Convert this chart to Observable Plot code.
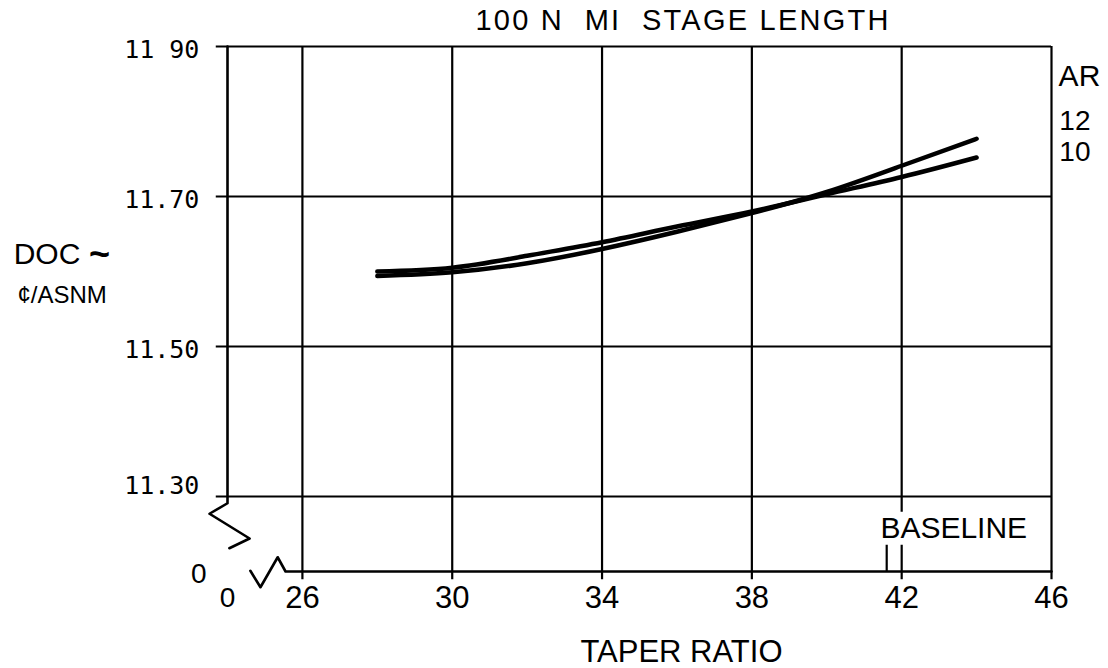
<!DOCTYPE html>
<html>
<head>
<meta charset="utf-8">
<script src="https://cdn.jsdelivr.net/npm/d3@7"></script>
<script src="https://cdn.jsdelivr.net/npm/@observablehq/plot@0.6"></script>
<style>
  html, body { margin: 0; padding: 0; background: #fff; }
  svg text { white-space: pre; }
</style>
</head>
<body>
<div id="chart"></div>
<script>
// ---- data ----
const taperRatio = [28, 30, 32, 34, 36, 38, 40, 42, 44];
const docAR10 = [11.600, 11.605, 11.621, 11.639, 11.660, 11.680, 11.703, 11.726, 11.752];
const docAR12 = [11.594, 11.599, 11.611, 11.630, 11.653, 11.678, 11.706, 11.741, 11.777];
const seriesNames = ["12", "10"];
const xTicks = [26, 30, 34, 38, 42, 46];
const xTickLabels = ["26", "30", "34", "38", "42", "46"];
const yTicks = [11.90, 11.70, 11.50, 11.30];
const yTickLabels = ["11 90", "11.70", "11.50", "11.30"];
const baselineTaper = 41.6;

const titleText = "100 N  MI  STAGE LENGTH";
const xLabel = "TAPER RATIO";
const yLabel1 = "DOC";
const yLabelTilde = "~";
const yLabel2 = "\u00A2/ASNM";

// ---- build rows ----
const rows = [];
taperRatio.forEach((t, i) => {
  rows.push({ar: "10", t, v: docAR10[i]});
  rows.push({ar: "12", t, v: docAR12[i]});
});

const X0 = 24, X1 = 46, Y0 = 11.20, Y1 = 11.90;
const sans = "'Liberation Sans', Arial, Helvetica, sans-serif";
const mono = "'DejaVu Sans Mono', monospace";

const chart = Plot.plot({
  width: 1108,
  height: 668,
  marginLeft: 227,
  marginRight: 57,
  marginTop: 46,
  marginBottom: 97,
  x: {domain: [X0, X1], axis: null},
  y: {domain: [Y0, Y1], axis: null},
  style: {background: "#fff", color: "#000"},
  marks: [
    // horizontal grid lines (extend slightly left of frame)
    Plot.ruleY(yTicks, {x1: 23.7, x2: X1, stroke: "#000", strokeWidth: 2.2}),
    // vertical grid lines (extend slightly below frame)
    Plot.ruleX(xTicks.filter(d => d !== 42), {y1: 11.189, y2: Y1, stroke: "#000", strokeWidth: 2.2}),
    Plot.ruleX([42], {y1: 11.279, y2: Y1, stroke: "#000", strokeWidth: 2.2}),
    Plot.ruleX([42], {y1: 11.189, y2: 11.235, stroke: "#000", strokeWidth: 2.2}),
    Plot.ruleX([baselineTaper], {y1: Y0, y2: 11.235, stroke: "#000", strokeWidth: 2.2}),
    // left frame with axis break
    Plot.line([[X0, Y1], [X0, 11.291], [23.52, 11.277], [24.59, 11.244], [24.05, 11.231]],
      {stroke: "#000", strokeWidth: 2.6}),
    // bottom frame with axis break
    Plot.line([[24.61, 11.201], [24.88, 11.179], [25.34, 11.219], [25.55, Y0], [X1, Y0]],
      {stroke: "#000", strokeWidth: 2.6}),
    // curves
    Plot.line(rows, {x: "t", y: "v", z: "ar", curve: "natural", stroke: "#000",
      strokeWidth: 4.5, strokeLinecap: "round"}),
    // y tick labels
    Plot.text(yTicks.slice(0, 3), {x: 23.25, y: d => d, text: (d, i) => yTickLabels[i],
      textAnchor: "end", dy: 3, fontFamily: mono, fontSize: 25, fill: "#000"}),
    Plot.text(yTicks.slice(3), {x: 23.25, y: d => d, text: () => yTickLabels[3],
      textAnchor: "end", dy: -11, fontFamily: mono, fontSize: 25, fill: "#000"}),
    Plot.text(["0"], {x: 23.23, y: 11.197, text: d => d, fontFamily: sans, fontSize: 28, fill: "#000"}),
    // x tick labels
    Plot.text(xTicks, {x: d => d, y: 11.165, text: (d, i) => xTickLabels[i],
      fontFamily: sans, fontSize: 31, fill: "#000"}),
    Plot.text(["0"], {x: X0, y: 11.165, text: d => d, fontFamily: sans, fontSize: 28, fill: "#000"}),
    // axis titles
    Plot.text([xLabel], {x: 36.12, y: 11.093, text: d => d, fontFamily: sans, fontSize: 31, fill: "#000"}),
    Plot.text([yLabel1], {x: 18.29, y: 11.623, text: d => d, textAnchor: "start",
      fontFamily: sans, fontSize: 30, fill: "#000"}),
    Plot.text([yLabelTilde], {x: 20.3, y: 11.623, text: d => d, textAnchor: "start",
      fontFamily: sans, fontSize: 36, fontWeight: "bold", fill: "#000"}),
    Plot.text([yLabel2], {x: 18.39, y: 11.568, text: d => d, textAnchor: "start",
      fontFamily: sans, fontSize: 24, fill: "#000"}),
    // title
    Plot.text([titleText], {x: 30.62, y: 11.935, text: d => d, textAnchor: "start",
      fontFamily: sans, fontSize: 29, fill: "#000"}),
    // AR legend
    Plot.text(["AR"], {x: 46.19, y: 11.86, text: d => d, textAnchor: "start",
      fontFamily: sans, fontSize: 30, fill: "#000"}),
    Plot.text(seriesNames, {x: 46.21, y: (d, i) => [11.801, 11.759][i], text: d => d, textAnchor: "start",
      fontFamily: sans, fontSize: 28, fill: "#000"}),
    // baseline label
    Plot.text(["BASELINE"], {x: 43.39, y: 11.258, text: d => d,
      fontFamily: sans, fontSize: 30, fill: "#000"})
  ]
});

document.getElementById("chart").appendChild(chart);
d3.select(chart).selectAll("text")
  .filter(function() { return this.textContent === titleText; })
  .attr("textLength", 413).attr("lengthAdjust", "spacing");
</script>
</body>
</html>
